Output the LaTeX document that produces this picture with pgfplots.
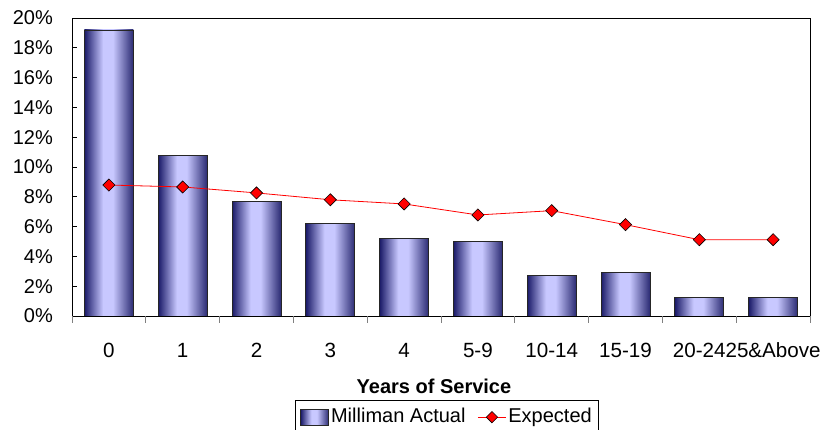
\documentclass[border=0pt]{standalone}
\usepackage{fontspec}
\setmainfont{Liberation Sans}
\usepackage{pgfplots}
\pgfplotsset{compat=1.18}

\definecolor{barDark}{HTML}{1A1A68}
\definecolor{barEdge}{HTML}{2A2A72}
\definecolor{barLight}{HTML}{C8C8FF}
\definecolor{lineRed}{HTML}{FF0000}

% horizontal gradient across each bar: dark edges, light band left of centre
\pgfdeclarehorizontalshading{barshade}{100bp}{%
  color(0bp)=(barDark); color(25bp)=(barDark); color(44bp)=(barLight);
  color(54bp)=(barLight); color(75bp)=(barEdge); color(100bp)=(barEdge)}

\pgfplotsset{
  gradbar/.style={ybar, bar width=49pt, bar shift=0pt, draw=black!85,
    line width=0.8pt, shading=barshade, forget plot},
}

\begin{document}
\fontsize{20}{24}\selectfont
\begin{tikzpicture}
\path[use as bounding box] (0,0) rectangle (827pt,430pt);
\begin{axis}[
  at={(72pt,114pt)}, anchor=south west,
  scale only axis, width=738pt, height=298pt,
  xmin=-0.5, xmax=9.5, ymin=0, ymax=20,
  /pgf/number format/assume math mode=true,
  axis line style={black, line width=0.8pt},
  ytick={0,2,...,20},
  yticklabels={0\%,2\%,4\%,6\%,8\%,10\%,12\%,14\%,16\%,18\%,20\%},
  ytick pos=left,
  ytick style={black, line width=0.8pt},
  y tick label style={anchor=east, inner sep=0pt, xshift=-19pt},
  xtick={0,...,9},
  xticklabels={0,1,2,3,4,5-9,10-14,15-19,20-24,25\&Above},
  xtick pos=bottom,
  tick align=inside,
  major tick length=5pt,
  xtick style={gray, line width=0.8pt},
  x tick label style={anchor=base, inner sep=0pt, yshift=-42pt,
    font=\fontsize{20.6}{24}\selectfont},
  extra x ticks={-0.5,0.5,...,9.5},
  extra x tick labels={},
  extra x tick style={tick align=outside, major tick length=7pt, tick style={black!80, line width=0.8pt}},
  xlabel={\bfseries Years of Service},
  xlabel style={at={(axis description cs:0.4905,0)}, anchor=base, inner sep=0pt, yshift=-78pt},
  legend style={at={(0.302,-0.282)}, anchor=north west, legend columns=2,
    draw=black, line width=0.8pt, inner xsep=5pt, inner ysep=6pt,
    /tikz/every even column/.append style={column sep=10pt},
    nodes={inner sep=2pt, line width=0.8pt}},
]
% Milliman Actual: one plot per bar so that each bar carries its own gradient
\addplot[gradbar] coordinates {(0,19.2)};
\addplot[gradbar] coordinates {(1,10.8)};
\addplot[gradbar] coordinates {(2,7.7)};
\addplot[gradbar] coordinates {(3,6.2)};
\addplot[gradbar] coordinates {(4,5.21)};
\addplot[gradbar] coordinates {(5,5.03)};
\addplot[gradbar] coordinates {(6,2.75)};
\addplot[gradbar] coordinates {(7,2.93)};
\addplot[gradbar] coordinates {(8,1.23)};
\addplot[gradbar] coordinates {(9,1.23)};
\addlegendimage{legend image code/.code={
    \draw[draw=black!85, line width=0.8pt, shading=barshade]
      (0pt,-8pt) rectangle (28pt,8pt);}}
\addlegendentry{Milliman Actual}
\addplot[lineRed, line width=0.8pt, mark=square*,
  mark options={rotate=45, fill=lineRed, draw=black, line width=0.6pt, mark size=4.3pt},
  legend image code/.code={
    \draw[lineRed, line width=0.8pt] (0pt,0pt) -- (28pt,0pt);
    \draw[fill=lineRed, draw=black, line width=0.6pt, rotate around={45:(14pt,0pt)}] (10pt,-4pt) rectangle (18pt,4pt);}]
  coordinates {(0,8.79) (1,8.66) (2,8.26) (3,7.8) (4,7.52) (5,6.78) (6,7.07) (7,6.13) (8,5.12) (9,5.12)};
\addlegendentry{Expected}
\end{axis}
\end{tikzpicture}
\end{document}
